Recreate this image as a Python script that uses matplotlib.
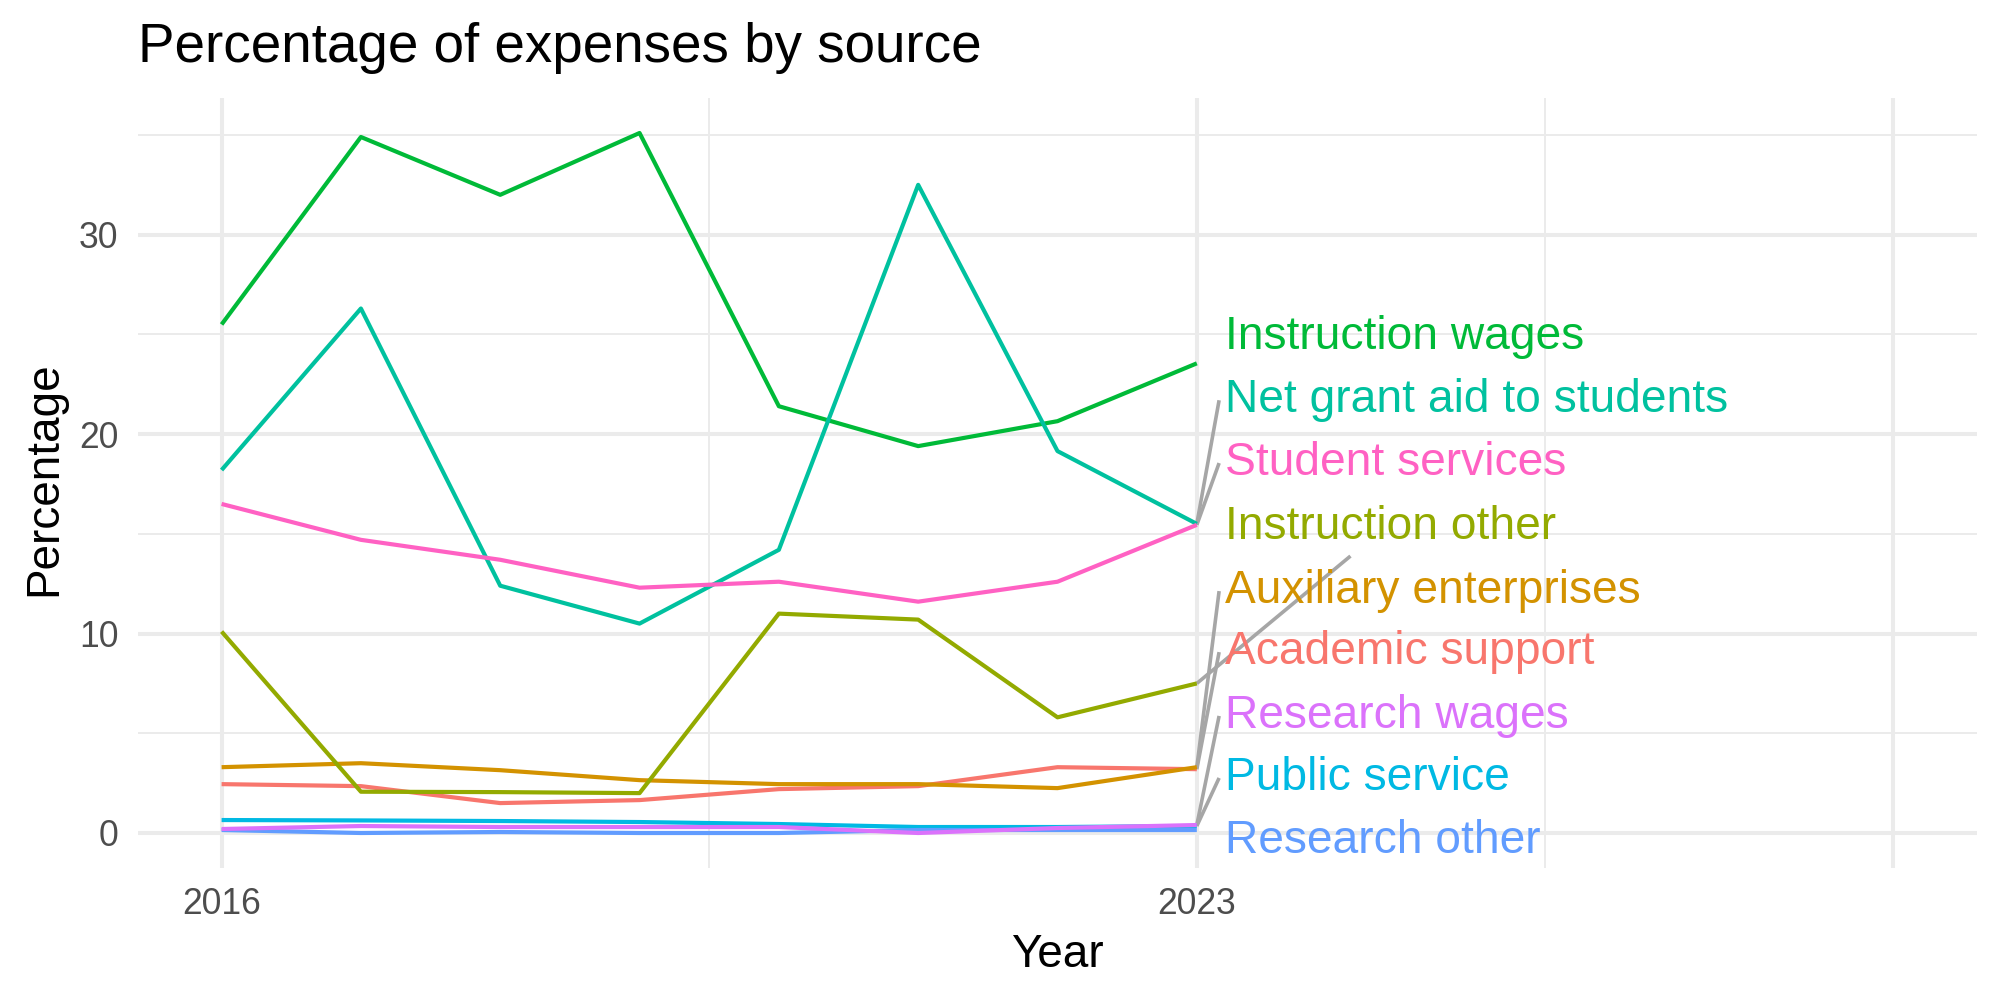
import matplotlib
matplotlib.use("Agg")
import matplotlib.pyplot as plt

plt.rcParams["font.family"] = ["Liberation Sans", "DejaVu Sans"]

# data (percent of expenses)
years = [2016, 2017, 2018, 2019, 2020, 2021, 2022, 2023]
academic_support = [2.45, 2.35, 1.5, 1.65, 2.2, 2.35, 3.3, 3.2]
auxiliary_enterprises = [3.3, 3.5, 3.15, 2.65, 2.45, 2.45, 2.25, 3.3]
instruction_other = [10.1, 2.07, 2.05, 2.0, 11.0, 10.7, 5.8, 7.5]
instruction_wages = [25.5, 34.9, 32.0, 35.1, 21.4, 19.4, 20.65, 23.55]
net_grant_aid = [18.2, 26.3, 12.4, 10.5, 14.2, 32.5, 19.15, 15.5]
public_service = [0.65, 0.63, 0.6, 0.55, 0.45, 0.3, 0.3, 0.35]
research_other = [0.15, 0.0, 0.05, 0.0, 0.0, 0.15, 0.15, 0.15]
research_wages = [0.2, 0.35, 0.3, 0.3, 0.3, 0.0, 0.25, 0.4]
student_services = [16.5, 14.7, 13.7, 12.3, 12.6, 11.6, 12.6, 15.45]

names = ["Academic support", "Auxiliary enterprises", "Instruction other",
         "Instruction wages", "Net grant aid to students", "Public service",
         "Research other", "Research wages", "Student services"]
values = [academic_support, auxiliary_enterprises, instruction_other,
          instruction_wages, net_grant_aid, public_service,
          research_other, research_wages, student_services]
colors = ["#F8766D", "#D39200", "#93AA00", "#00BA38", "#00C19F",
          "#00B9E3", "#619CFF", "#DB72FB", "#FF61C3"]

# repelled label placement (cap-centre height, data units) and connector style
label_y = {"Instruction wages": 25.06, "Net grant aid to students": 21.9,
           "Student services": 18.75, "Instruction other": 15.54,
           "Auxiliary enterprises": 12.33, "Academic support": 9.27,
           "Research wages": 6.07, "Public service": 2.96,
           "Research other": -0.2}
seg_mode = {"Net grant aid to students": "left", "Student services": "left",
            "Instruction other": "bottom", "Auxiliary enterprises": "left",
            "Academic support": "left", "Research wages": "left",
            "Public service": "left"}

fig = plt.figure(figsize=(10, 5), dpi=200)
ax = fig.add_axes([0.069, 0.132, 0.9195, 0.77])

for name, vals, col in zip(names, values, colors):
    ax.plot(years, vals, color=col, lw=1.5, zorder=3, solid_capstyle="butt")

ax.set_xlim(2015.4, 2028.6)
ymax = max(max(v) for v in values)
ax.set_ylim(-0.05 * ymax, 1.05 * ymax)

ax.set_xticks([2016, 2023, 2028])
ax.set_xticklabels(["2016", "2023", ""])
ax.set_xticks([2019.5, 2025.5], minor=True)
ax.set_yticks([0, 10, 20, 30])
ax.set_yticks([5, 15, 25, 35], minor=True)
ax.grid(which="major", color="#EBEBEB", lw=1.45, zorder=0)
ax.grid(which="minor", color="#EBEBEB", lw=0.7, zorder=0)
ax.tick_params(which="both", length=0, labelsize=12.8, labelcolor="#4D4D4D")
ax.tick_params(axis="x", pad=7.0)
ax.tick_params(axis="y", pad=7.0)
for s in ax.spines.values():
    s.set_visible(False)

# labels to the right of the last year
cap = 32 / 19.95 * (ax.get_ylim()[1] - ax.get_ylim()[0]) / 38.6
texts = {}
for name, col in zip(names, colors):
    t = ax.text(2023.2, label_y[name] - cap / 2, name, color=col,
                fontsize=16.6, va="baseline", ha="left", zorder=4)
    texts[name] = t

fig.canvas.draw()
r = fig.canvas.get_renderer()
inv = ax.transData.inverted()
for name, vals in zip(names, values):
    if name not in seg_mode:
        continue
    bb = texts[name].get_window_extent(r)
    (x0, y0), (x1, y1) = inv.transform([[bb.x0, bb.y0], [bb.x1, bb.y1]])
    px, py = years[-1], vals[-1]
    if seg_mode[name] == "left":
        ex, ey = x0 - 0.04, label_y[name] - 0.2
    else:
        cx, cy = (x0 + x1) / 2, label_y[name]
        ey = y0 - 0.35
        ex = px + (cx - px) * (ey - py) / (cy - py)
    ax.plot([px, ex], [py, ey], color="#A6A6A6", lw=1.3, zorder=2.5,
            solid_capstyle="butt")

fig.text(0.069, 1 - 0.062, "Percentage of expenses by source",
         fontsize=19.7, ha="left", va="baseline")
fig.text(0.5285, 0.033, "Year", fontsize=16.5, ha="center", va="baseline")
fig.text(0.022, 0.521, "Percentage", fontsize=16.5, ha="center",
         va="center", rotation=90)

fig.savefig("out.png", dpi=200)
plt.close("all")
